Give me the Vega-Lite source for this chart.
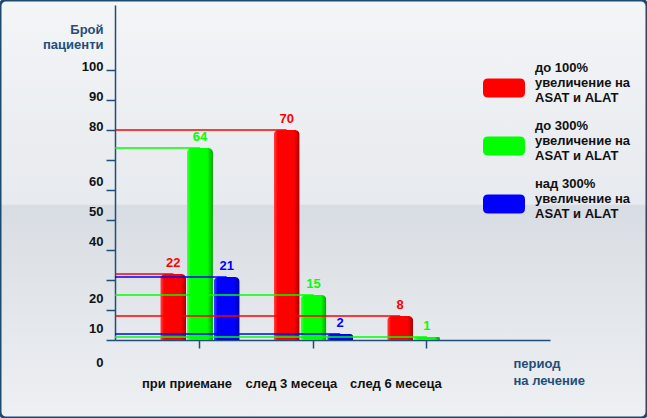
{
  "$schema": "https://vega.github.io/schema/vega-lite/v6.json",
  "width": 647,
  "height": 418,
  "autosize": {"type": "none"},
  "padding": 0,
  "background": "#eef1f4",
  "config": {
    "font": "Liberation Sans",
    "view": {
      "fill": {
        "gradient": "linear", "x1": 0, "y1": 0, "x2": 0, "y2": 1,
        "stops": [
          {"offset": 0, "color": "#f3f5f7"},
          {"offset": 0.488, "color": "#e7eaee"},
          {"offset": 0.492, "color": "#d8dde3"},
          {"offset": 1, "color": "#eef0f3"}
        ]
      },
      "stroke": "#1b4a73",
      "strokeWidth": 3,
      "cornerRadius": 6
    }
  },
  "data": {
    "values": [
      {"period": "при приемане", "series": "до 100%", "value": 22},
      {"period": "при приемане", "series": "до 300%", "value": 64},
      {"period": "при приемане", "series": "над 300%", "value": 21},
      {"period": "след 3 месеца", "series": "до 100%", "value": 70},
      {"period": "след 3 месеца", "series": "до 300%", "value": 15},
      {"period": "след 3 месеца", "series": "над 300%", "value": 2},
      {"period": "след 6 месеца", "series": "до 100%", "value": 8},
      {"period": "след 6 месеца", "series": "до 300%", "value": 1}
    ]
  },
  "encoding": {
    "x": {
      "field": "period",
      "type": "nominal",
      "scale": {
        "domain": ["при приемане", "след 3 месеца", "след 6 месеца"],
        "range": [115, 550],
        "paddingInner": 0.3,
        "paddingOuter": 0.5665,
        "align": 0.352
      },
      "axis": {
        "orient": "bottom",
        "offset": -78,
        "labelAngle": 0,
        "domainColor": "#1f4e79",
        "domainWidth": 1.5,
        "tickColor": "#1f4e79",
        "tickWidth": 1.5,
        "tickSize": 8,
        "labelFont": "Liberation Sans",
        "labelFontSize": 13,
        "labelFontWeight": "bold",
        "labelColor": "#111111",
        "labelBaseline": "alphabetic",
        "labelPadding": 39,
        "labelOffset": {
          "condition": [
            {"test": "datum.value == 'при приемане'", "value": -13},
            {"test": "datum.value == 'след 6 месеца'", "value": -31}
          ],
          "value": -22
        },
        "title": ["период", "на лечение"],
        "titleFont": "Liberation Sans",
        "titleFontSize": 13,
        "titleFontWeight": "bold",
        "titleColor": "#1f4e79",
        "titleAlign": "left",
        "titleAnchor": "start",
        "titleBaseline": "alphabetic",
        "titleX": 513,
        "titleY": 27,
        "titleLineHeight": 17
      }
    },
    "xOffset": {
      "field": "series",
      "type": "nominal",
      "scale": {"domain": ["до 100%", "до 300%", "над 300%"], "paddingInner": 0.03, "paddingOuter": 0}
    },
    "y": {
      "field": "value",
      "type": "quantitative",
      "scale": {"domain": [0, 111.67], "range": [340, 5], "nice": false, "zero": true},
      "axis": {
        "orient": "left",
        "offset": -115,
        "values": [0, 10, 20, 30, 40, 50, 60, 70, 80, 90, 100],
        "grid": false,
        "domainColor": "#1f4e79",
        "domainWidth": 1.5,
        "tickColor": {"condition": {"test": "datum.value == 100", "value": "transparent"}, "value": "#1f4e79"},
        "tickWidth": 1.5,
        "tickSize": 9,
        "labelExpr": "datum.value == 30 || datum.value == 70 ? '' : datum.label",
        "labelFont": "Liberation Sans",
        "labelFontSize": 13,
        "labelFontWeight": "bold",
        "labelColor": "#111111",
        "labelBaseline": "alphabetic",
        "labelOffset": {
          "condition": [
            {"test": "datum.value >= 80", "value": 30},
            {"test": "datum.value >= 40", "value": 25},
            {"test": "datum.value == 0", "value": 26}
          ],
          "value": 22
        },
        "labelPadding": 3,
        "title": ["Брой", "пациенти"],
        "titleFont": "Liberation Sans",
        "titleFontSize": 13,
        "titleFontWeight": "bold",
        "titleColor": "#1f4e79",
        "titleAngle": 0,
        "titleAlign": "right",
        "titleBaseline": "alphabetic",
        "titleX": -12,
        "titleY": 33,
        "titleLineHeight": 15
      }
    }
  },
  "layer": [
    {
      "mark": {"type": "bar", "cornerRadiusTopLeft": 5, "cornerRadiusTopRight": 5},
      "encoding": {
        "color": {
          "field": "series",
          "type": "nominal",
          "scale": {"domain": ["до 100%", "до 300%", "над 300%"], "range": ["#ff0000", "#00ff00", "#0000ff"]},
          "legend": {
            "orient": "none",
            "legendX": 483,
            "legendY": 47,
            "padding": 0,
            "title": null,
            "direction": "vertical",
            "rowPadding": -6,
            "symbolType": "M -0.76,0.5 L 0.76,0.5 Q 1,0.5 1,0.738 L 1,1.166 Q 1,1.404 0.76,1.404 L -0.76,1.404 Q -1,1.404 -1,1.166 L -1,0.738 Q -1,0.5 -0.76,0.5 Z",
            "symbolSize": 1764,
            "symbolStrokeWidth": 0,
            "symbolOpacity": 1,
            "labelOffset": 10,
            "labelFont": "Liberation Sans",
            "labelFontSize": 13,
            "labelFontWeight": "bold",
            "labelColor": "#111111",
            "labelLimit": 300,
            "labelBaseline": "middle",
            "labelExpr": "[datum.label, 'увеличение на', 'ASAT и ALAT']"
          }
        }
      }
    },
    {
      "mark": {"type": "bar", "cornerRadiusTopLeft": 5, "cornerRadiusTopRight": 5},
      "encoding": {
        "fill": {
          "value": {
            "gradient": "linear", "x1": 0, "y1": 0, "x2": 1, "y2": 0,
            "stops": [
              {"offset": 0, "color": "rgba(255,255,255,0.28)"},
              {"offset": 0.15, "color": "rgba(255,255,255,0)"},
              {"offset": 0.78, "color": "rgba(0,0,0,0)"},
              {"offset": 1, "color": "rgba(0,0,0,0.35)"}
            ]
          }
        }
      }
    },
    {
      "mark": {"type": "rule", "strokeWidth": 1.3},
      "encoding": {
        "x": {"field": "period", "type": "nominal", "bandPosition": 1},
        "x2": {"value": {"expr": "range('x')[0]"}},
        "color": {"field": "series", "type": "nominal"}
      }
    },
    {
      "mark": {"type": "text", "baseline": "alphabetic", "dy": -7, "fontSize": 13, "fontWeight": "bold", "font": "Liberation Sans"},
      "encoding": {
        "text": {"field": "value", "type": "quantitative"},
        "color": {"field": "series", "type": "nominal"}
      }
    }
  ]
}
